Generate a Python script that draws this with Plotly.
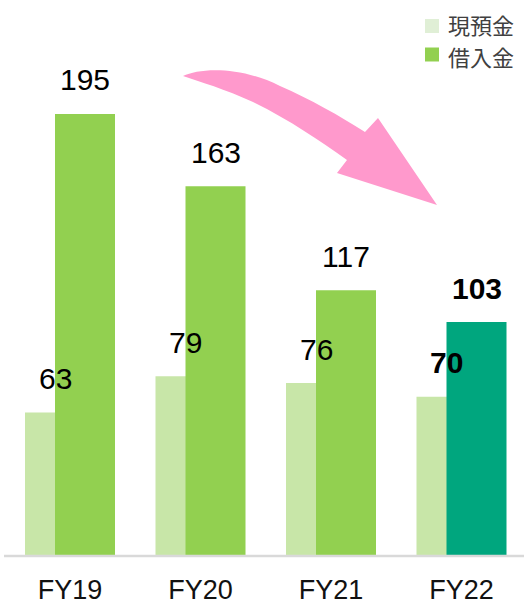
import plotly.graph_objects as go

# Cash & deposits vs. borrowings by fiscal year (units as labelled)
years = ["FY19", "FY20", "FY21", "FY22"]
cash = [63, 79, 76, 70]          # 現預金
borrowings = [195, 163, 117, 103]  # 借入金
highlight = [False, False, False, True]
legend_labels = ["現預金", "借入金"]

W, H = 524, 604
LIGHT = "#c8e6a8"
LIGHT_KEY = "#e0efd6"
GREEN = "#92d050"
TEAL = "#00a67e"
PINK = "#ff99cc"
NUM_FONT = "Liberation Sans, Arial, sans-serif"

# plot-area geometry in pixels
x0_px, step_px = 70.0, 130.5
base_px, px_per_unit = 555.0, 2.262
bar_w = 60 / step_px
light_off = -45 / step_px
dark_off = -15 / step_px

xs = list(range(len(years)))

fig = go.Figure()
fig.add_trace(go.Bar(
    x=xs, y=cash, name=legend_labels[0], width=bar_w, offset=light_off,
    marker=dict(color=LIGHT, line=dict(width=0)), showlegend=False,
))
fig.add_trace(go.Bar(
    x=xs, y=borrowings, name=legend_labels[1], width=bar_w, offset=dark_off,
    marker=dict(color=[TEAL if h else GREEN for h in highlight], line=dict(width=0)),
    showlegend=False,
))

# value labels above each bar
lift = 34  # px above bar top
for i, (c, b, h) in enumerate(zip(cash, borrowings, highlight)):
    for val, off in ((c, light_off), (b, dark_off)):
        fig.add_annotation(
            x=i + off + bar_w / 2, y=val, xref="x", yref="y",
            text=f"<b>{val}</b>" if h else str(val),
            showarrow=False, yshift=lift, yanchor="middle",
            font=dict(family=NUM_FONT, size=30, color="#000000"),
        )


def px(x, y):
    return x / W, 1 - y / H


# baseline
bx0, by = px(4, 556)
bx1, _ = px(524, 556)
fig.add_shape(type="line", xref="paper", yref="paper", x0=bx0, x1=bx1, y0=by, y1=by,
              line=dict(color="#d9d9d9", width=2.5))

# curved pink arrow
outline = [
    ("M", [(183, 76)]),
    ("C", [(200, 68), (240, 66), (280, 86)]),
    ("C", [(310, 99), (340, 116), (365, 132)]),
    ("L", [(378, 118)]),
    ("L", [(437, 205)]),
    ("L", [(337, 173)]),
    ("L", [(347, 160)]),
    ("C", [(320, 141), (290, 120), (253, 102)]),
    ("C", [(225, 89), (200, 82), (183, 76)]),
]
parts = []
for cmd, pts in outline:
    coords = " ".join("{:.5f},{:.5f}".format(*px(x, y)) for x, y in pts)
    parts.append(f"{cmd} {coords}")
path = " ".join(parts) + " Z"
fig.add_shape(type="path", xref="paper", yref="paper", path=path,
              fillcolor=PINK, line=dict(width=0), layer="above")

# legend: colour keys and labels
for label, col, key_y, text_y in zip(legend_labels, (LIGHT_KEY, GREEN), (26, 54.5), (23.5, 55.5)):
    sx0, sy0 = px(425, key_y - 7)
    sx1, sy1 = px(439, key_y + 7)
    fig.add_shape(type="rect", xref="paper", yref="paper", x0=sx0, x1=sx1, y0=sy1, y1=sy0,
                  fillcolor=col, line=dict(width=0))
    tx, ty = px(446, text_y)
    fig.add_annotation(x=tx, y=ty, xref="paper", yref="paper", text=label,
                       showarrow=False, xanchor="left", yanchor="middle",
                       font=dict(family="Noto Sans CJK JP", size=22, color="#404040"))

fig.update_layout(
    width=W, height=H,
    margin=dict(l=0, r=0, t=0, b=0),
    paper_bgcolor="white", plot_bgcolor="white",
    barmode="overlay",
    xaxis=dict(
        range=[-x0_px / step_px, (W - x0_px) / step_px],
        tickvals=xs, ticktext=years, ticks="", showgrid=False, zeroline=False,
        showline=False, tickfont=dict(family="Liberation Sans, Arial, sans-serif", size=27, color="#111111"),
        ticklabelstandoff=16, domain=[0, 1],
    ),
    yaxis=dict(
        range=[0, base_px / px_per_unit], domain=[1 - base_px / H, 1],
        visible=False, showgrid=False, zeroline=False,
    ),
)

fig.write_html("out.html")
